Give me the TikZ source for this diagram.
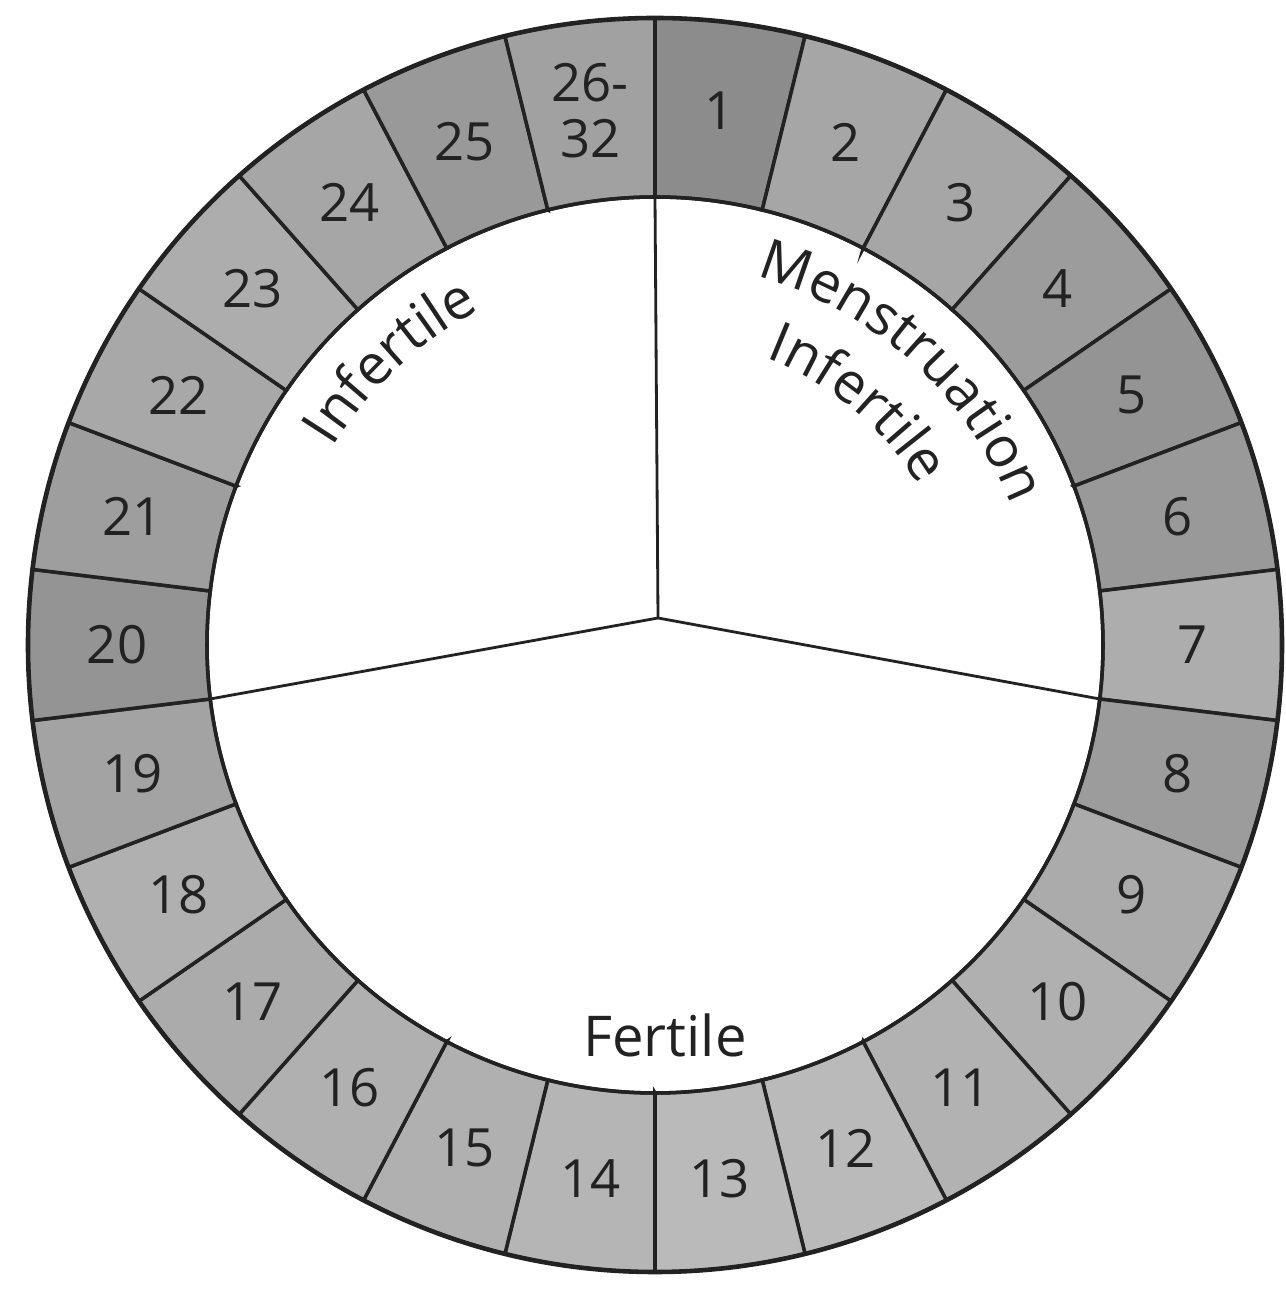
\documentclass[tikz,border=0pt]{standalone}
\usepackage{fontspec}
\setmainfont{Open Sans}
\usetikzlibrary{decorations.text}
\definecolor{ink}{HTML}{222222}
\newcommand{\phasefont}{\color{ink}\fontsize{16}{18}\selectfont}

\begin{document}
\begin{tikzpicture}[
    daynum/.style={font=\fontsize{15}{16}\selectfont, text=ink, align=center, inner sep=0pt},
    phase/.style={font=\phasefont},
    ringline/.style={draw=ink, line width=1pt},
    spoke/.style={draw=ink, line width=0.8pt}
]
    \useasboundingbox (-6.55,-6.58) rectangle (6.30,6.45);
    \def\rin{4.48}
    \def\rout{6.27}
    \def\da{13.84615}

    % Day segments, clockwise from the top
    \foreach \k/\lab/\shade in {1/1/45, 2/2/35, 3/3/35, 4/4/39, 5/5/42, 6/6/40, 7/7/32,
        8/8/39, 9/9/33, 10/10/31, 11/11/30, 12/12/27, 13/13/27, 14/14/29, 15/15/31,
        16/16/31, 17/17/33, 18/18/31, 19/19/36, 20/20/42, 21/21/38, 22/22/34,
        23/23/32, 24/24/35, 25/25/40, 26/{26-\\32}/37}{
        \pgfmathsetmacro{\a}{90-(\k-1)*\da}
        \pgfmathsetmacro{\b}{90-\k*\da}
        \pgfmathsetmacro{\m}{90-(\k-0.5)*\da}
        \filldraw[fill=black!\shade, ringline] (\a:\rin) -- (\a:\rout)
            arc[start angle=\a, end angle=\b, radius=\rout] -- (\b:\rin)
            arc[start angle=\b, end angle=\a, radius=\rin] -- cycle;
        \node[daynum] (d\k) at (\m:5.38) {\lab};
    }

    % Outlines of the ring
    \draw[ringline, line width=1.3pt] (0,0) circle[radius=\rout];
    \draw[ringline] (0,0) circle[radius=\rin];

    % Three phases
    \coordinate (hub) at (0.03,0.27);
    \coordinate (top) at (90:\rin);
    \coordinate (right) at (-6.92:\rin);
    \coordinate (left) at (186.92:\rin);
    \draw[spoke] (hub) -- (top);
    \draw[spoke] (hub) -- (right);
    \draw[spoke] (hub) -- (left);

    % Phase names
    \path[decorate, decoration={text along path, text align=center,
        text={|\phasefont|Menstruation}}]
        (80:3.82) arc[start angle=80, end angle=16, radius=3.82];
    \path[decorate, decoration={text along path, text align=center,
        text={|\phasefont|Infertile}}]
        (82:3.08) arc[start angle=82, end angle=18, radius=3.08];
    \path[decorate, decoration={text along path, text align=center,
        text={|\phasefont|Infertile}}]
        (163:3.78) arc[start angle=163, end angle=103, radius=3.78];
    \node[phase] (fert) at (0.1,-3.9) {Fertile};
\end{tikzpicture}
\end{document}
